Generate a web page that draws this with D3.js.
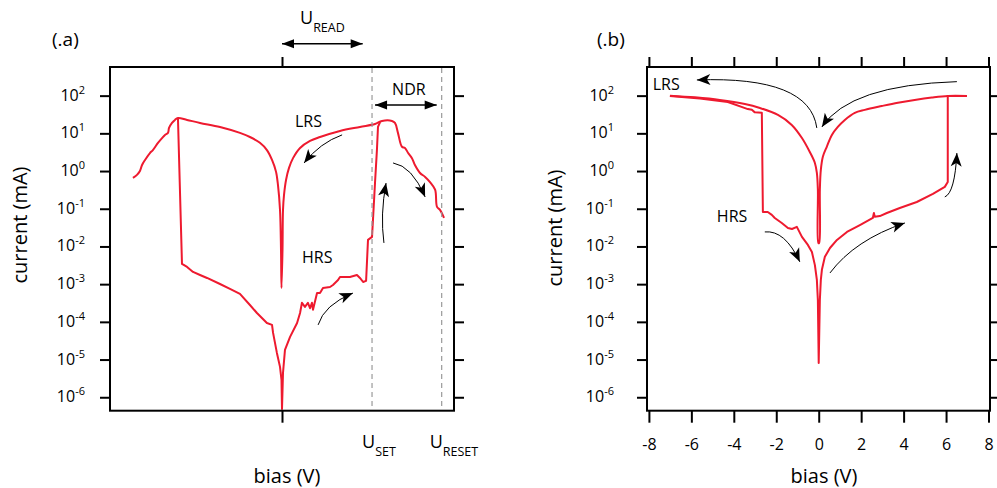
<!DOCTYPE html>
<html>
<head>
<meta charset="utf-8">
<script src="https://cdn.jsdelivr.net/npm/d3@7"></script>
<style>
  body { margin: 0; background: #fff; }
  svg text { font-family: "Open Sans", sans-serif; fill: #000; }
</style>
</head>
<body>
<svg id="chart" width="997" height="488"></svg>
<script>
// ---------- measured I–V sweeps (bias in V, current in mA) ----------

// (a) LRS sweep with negative differential resistance past the SET peak
const aLrsBias = [-7.02,-6.83,-6.69,-6.59,-6.45,-6.22,-6.08,-5.84,-5.65,-5.51,-5.37,-5.32,-5.18,-5.04,-4.90,-4.47,-3.86,-2.92,-1.98,-1.51,-1.04,-0.71,-0.47,-0.28,-0.19,-0.094,-0.047,-0.024,0.024,0.047,0.094,0.19,0.33,0.52,0.85,1.32,1.79,2.73,3.67,4.38,4.71,5.18,5.32,5.46,5.65,5.79,5.94,6.12,6.26,6.50,6.74,6.97,7.21,7.30,7.44,7.63];
const aLrsCurrent = [0.66,0.79,1.0,1.45,1.97,3.0,3.6,5.6,7.5,9.1,10.3,13.9,18.9,22.7,25.6,22.7,18.9,14.8,10.3,8.0,5.6,3.6,1.97,0.95,0.43,0.093,0.0081,7.9e-4,0.0081,0.093,0.23,0.58,1.21,2.2,4.1,6.3,8.0,11.6,14.8,17.7,21.3,21.3,18.9,10.3,4.4,4.1,3.0,2.2,1.45,0.89,0.70,0.51,0.32,0.112,0.093,0.057];

// (a) RESET drop, HRS branch and SET jump
const aHrsBias = [-4.90,-4.71,-4.47,-4.19,-3.86,-3.53,-2.92,-2.45,-1.98,-1.51,-1.18,-0.71,-0.47,-0.42,-0.24,-0.094,-0.024,0,0.047,0.14,0.38,0.71,0.85,0.94,1.08,1.22,1.32,1.41,1.46,1.65,1.79,1.93,2.26,2.40,2.64,2.73,3.20,3.53,3.67,3.82,3.96,4.05,4.24,4.38,4.47,4.52,4.62];
const aHrsCurrent = [25.6,0.00344,0.00286,0.00211,0.00175,0.00146,0.00101,7.5e-4,5.5e-4,2.8e-4,1.72e-4,9.3e-5,8.3e-5,5.1e-5,1.5e-5,6.4e-6,2.9e-6,4.9e-7,4.4e-6,1.8e-5,4.0e-5,9.3e-5,1.72e-4,3.2e-4,2.5e-4,3.2e-4,2.3e-4,3.2e-4,2.1e-4,5.8e-4,5.8e-4,7.9e-4,8.4e-4,9.5e-4,1.29e-3,1.55e-3,1.55e-3,1.75e-3,1.46e-3,1.14e-3,1.22e-3,0.0149,0.0179,0.48,3.6,14.8,20.0];

// (b) LRS branch, +7 V down through 0 to -7 V
const bLrsBias = [6.98,6.08,5.33,4.52,3.73,2.97,2.17,1.70,1.23,0.90,0.62,0.38,0.195,0.10,0.054,0.02,-0.016,-0.04,-0.087,-0.18,-0.42,-0.79,-1.27,-1.92,-2.77,-3.48,-4.66,-5.83,-7.01];
const bLrsCurrent = [98,98,89,77,65,53,42,35,22.7,14.8,9.1,4.4,2.4,1.07,0.32,0.0124,0.0124,0.32,0.89,1.64,3.2,7.5,16.7,30.8,47,60,77,90,100];

// (b) return sweep: RESET near -2.6 V, HRS, SET near +6 V
const bHrsBias = [-7.01,-5.60,-4.28,-3.34,-3.15,-3.01,-2.68,-2.63,-2.40,-2.21,-2.07,-1.74,-1.45,-1.26,-1.03,-0.79,-0.51,-0.32,-0.18,-0.087,-0.04,0,0.054,0.10,0.15,0.29,0.53,0.86,1.33,1.94,2.55,2.60,2.64,2.88,3.21,3.82,4.62,5.38,5.94,6.08,6.08,6.98];
const bHrsCurrent = [98,84,68,44,42,36,35,0.082,0.082,0.069,0.057,0.042,0.031,0.029,0.033,0.0179,0.011,0.0071,0.0032,0.0013,3.8e-4,8.1e-6,3.8e-4,0.0013,0.0024,0.0053,0.0091,0.0149,0.0243,0.037,0.057,0.077,0.061,0.064,0.077,0.105,0.151,0.247,0.38,0.51,98,98];

// axis ticks
const yTickExponents = [2, 1, 0, -1, -2, -3, -4, -5, -6];
const bBiasTicks = [-8, -6, -4, -2, 0, 2, 4, 6, 8];
const aBiasTicks = [0];

// characteristic voltages in (a)
const uSet = 4.24, uReset = 7.52, uReadSpan = [0, 3.8];

// annotation arrows: [start, control, tip] as [bias, current]
const aArrows = [
  [[2.83, 9.1], [1.79, 5.6], [1.04, 1.64]],
  [[4.80, 0.0124], [4.62, 0.069], [4.90, 0.48]],
  [[5.23, 1.64], [6.12, 1.36], [6.74, 0.206]],
  [[1.70, 8.3e-5], [1.98, 2.8e-4], [3.34, 5.8e-4]]
];
const bArrows = [
  [[6.51, 235], [1.47, 192], [0.15, 14.8]],
  [[-0.09, 13.9], [-0.42, 333], [-5.74, 261]],
  [[-2.54, 0.0243], [-1.59, 0.0274], [-0.89, 0.0039]],
  [[0.53, 0.00198], [1.70, 0.0149], [4.06, 0.042]],
  [[5.94, 0.206], [6.41, 0.262], [6.51, 3.0]]
];

// ---------- drawing ----------
const svg = d3.select("#chart");
const RED = "#ee1a2f";
const plotTop = 67, plotBottom = 410.7;
const yDomain = [4.4e-7, 575];

const defs = svg.append("defs");
defs.append("marker")
  .attr("id", "head").attr("markerUnits", "userSpaceOnUse")
  .attr("viewBox", "-15 -7 16 14").attr("refX", 0).attr("refY", 0)
  .attr("markerWidth", 16).attr("markerHeight", 14)
  .attr("orient", "auto-start-reverse")
  .append("path").attr("d", "M0,0 L-13.5,-5.5 L-10,0 L-13.5,5.5 Z").attr("fill", "#000");
defs.append("marker")
  .attr("id", "head2").attr("markerUnits", "userSpaceOnUse")
  .attr("viewBox", "-13 -6 14 12").attr("refX", 0).attr("refY", 0)
  .attr("markerWidth", 14).attr("markerHeight", 12)
  .attr("orient", "auto-start-reverse")
  .append("path").attr("d", "M0,0 L-12,-4.5 L-12,4.5 Z").attr("fill", "#000");

function panel(opts) {
  const x = d3.scaleLinear().domain(opts.xDomain).range([opts.left, opts.right]);
  const y = d3.scaleLog().domain(yDomain).range([plotBottom, plotTop]);
  const g = svg.append("g");

  // sweeps: the smooth LRS branches use a centripetal spline, the rest is linear
  opts.series.forEach(([bias, cur, smooth]) => {
    const line = d3.line().x(d => x(d[0])).y(d => y(d[1]))
      .curve(smooth ? d3.curveCatmullRom.alpha(0.5) : d3.curveLinear);
    g.append("path")
      .attr("d", line(d3.zip(bias, cur)))
      .attr("fill", "none").attr("stroke", RED)
      .attr("stroke-width", 2).attr("stroke-linejoin", "round");
  });

  // frame
  g.append("rect")
    .attr("x", opts.left).attr("y", plotTop)
    .attr("width", opts.right - opts.left).attr("height", plotBottom - plotTop)
    .attr("fill", "none").attr("stroke", "#000").attr("stroke-width", 2);

  const styleAxis = sel => {
    sel.select(".domain").remove();
    sel.selectAll(".tick line").attr("stroke", "#000").attr("stroke-width", 2);
  };
  const yTicks = yTickExponents.map(e => Math.pow(10, e));
  g.append("g").attr("transform", `translate(${opts.left},0)`)
    .call(d3.axisLeft(y).tickValues(yTicks).tickSize(10).tickFormat(() => ""))
    .call(styleAxis);
  g.append("g").attr("transform", `translate(${opts.right},0)`)
    .call(d3.axisRight(y).tickValues(yTicks).tickSize(10).tickFormat(() => ""))
    .call(styleAxis);
  g.append("g").attr("transform", `translate(0,${plotTop})`)
    .call(d3.axisTop(x).tickValues(opts.xTicks).tickSize(10).tickFormat(() => ""))
    .call(styleAxis);
  const bx = g.append("g").attr("transform", `translate(0,${plotBottom})`)
    .call(d3.axisBottom(x).tickValues(opts.xTicks).tickSize(12).tickPadding(16)
      .tickFormat(opts.xLabels ? (d => String(d)) : (() => "")))
    .call(styleAxis);
  bx.selectAll("text").attr("font-size", 16).attr("font-family", "Open Sans, sans-serif").attr("fill", "#000");

  // decade labels 10^n
  yTickExponents.forEach(e => {
    const t = g.append("text")
      .attr("x", opts.left - opts.labelGap).attr("y", y(Math.pow(10, e)) + 5)
      .attr("text-anchor", "end").attr("font-size", 16);
    t.append("tspan").text("10");
    t.append("tspan").attr("dy", -7).attr("font-size", 11).text(String(e));
  });

  // axis titles
  g.append("text")
    .attr("x", opts.xTitleX).attr("y", 483)
    .attr("text-anchor", "middle").attr("font-size", 20).text("bias (V)");
  g.append("text")
    .attr("transform", `translate(${opts.yTitleX},${opts.yTitleY}) rotate(-90)`)
    .attr("text-anchor", "middle").attr("font-size", 20).text("current (mA)");

  // panel tag
  g.append("text").attr("x", opts.tagX).attr("y", 46)
    .attr("font-size", 19).text(opts.tag);

  // curved annotation arrows
  opts.arrows.forEach(([s, c, e]) => {
    const p = d3.path();
    p.moveTo(x(s[0]), y(s[1]));
    p.quadraticCurveTo(x(c[0]), y(c[1]), x(e[0]), y(e[1]));
    g.append("path").attr("d", p.toString())
      .attr("fill", "none").attr("stroke", "#000").attr("stroke-width", 1)
      .attr("marker-end", "url(#head)");
  });

  // state labels
  opts.labels.forEach(l => {
    g.append("text").attr("x", x(l.bias)).attr("y", y(l.current))
      .attr("font-size", 16).text(l.text);
  });
  return { g, x, y };
}

const A = panel({
  left: 110, right: 454, xDomain: [-8.1, 8.1], xTicks: aBiasTicks, xLabels: false,
  series: [[aLrsBias, aLrsCurrent, true], [aHrsBias, aHrsCurrent, false]],
  labelGap: 25, xTitleX: 287, yTitleX: 27, yTitleY: 225, tag: "(.a)", tagX: 52,
  arrows: aArrows,
  labels: [
    { text: "LRS", bias: 0.61, current: 14.8 },
    { text: "HRS", bias: 0.94, current: 3.65e-3 }
  ]
});

const B = panel({
  left: 647, right: 990, xDomain: [-8.09, 8.07], xTicks: bBiasTicks, xLabels: true,
  series: [[bLrsBias, bLrsCurrent, true], [bHrsBias, bHrsCurrent, false]],
  labelGap: 33, xTitleX: 824, yTitleX: 562, yTitleY: 228, tag: "(.b)", tagX: 597,
  arrows: bArrows,
  labels: [
    { text: "LRS", bias: -7.82, current: 142 },
    { text: "HRS", bias: -4.80, current: 0.0447 }
  ]
});

// (a) SET / RESET markers
const ga = A.g;
[uSet, uReset].forEach(v => {
  ga.append("line")
    .attr("x1", A.x(v)).attr("x2", A.x(v)).attr("y1", plotTop + 1).attr("y2", plotBottom - 1)
    .attr("stroke", "#9a9a9a").attr("stroke-width", 1.2).attr("stroke-dasharray", "5,4");
});

function subLabel(g, xPos, yPos, main, sub) {
  const t = g.append("text").attr("x", xPos).attr("y", yPos).attr("font-size", 18);
  t.append("tspan").text(main);
  t.append("tspan").attr("dy", 8).attr("font-size", 12.5).text(sub);
  return t;
}
subLabel(ga, A.x(uSet) - 10, 448, "U", "SET");
subLabel(ga, A.x(uReset) - 12, 448, "U", "RESET");
subLabel(ga, A.x(uReadSpan[0]) + 18, 24, "U", "READ");

// double-headed span arrows
ga.append("line")
  .attr("x1", A.x(uReadSpan[0])).attr("x2", A.x(uReadSpan[1]))
  .attr("y1", 43.7).attr("y2", 43.7)
  .attr("stroke", "#000").attr("stroke-width", 1.5)
  .attr("marker-start", "url(#head2)").attr("marker-end", "url(#head2)");
ga.append("line")
  .attr("x1", A.x(uSet) + 3).attr("x2", A.x(uReset) - 5)
  .attr("y1", A.y(56.6)).attr("y2", A.y(56.6))
  .attr("stroke", "#000").attr("stroke-width", 1.5)
  .attr("marker-start", "url(#head2)").attr("marker-end", "url(#head2)");
ga.append("text").attr("x", (A.x(uSet) + A.x(uReset)) / 2 + 2).attr("y", 95)
  .attr("text-anchor", "middle").attr("font-size", 16).text("NDR");
</script>
</body>
</html>
